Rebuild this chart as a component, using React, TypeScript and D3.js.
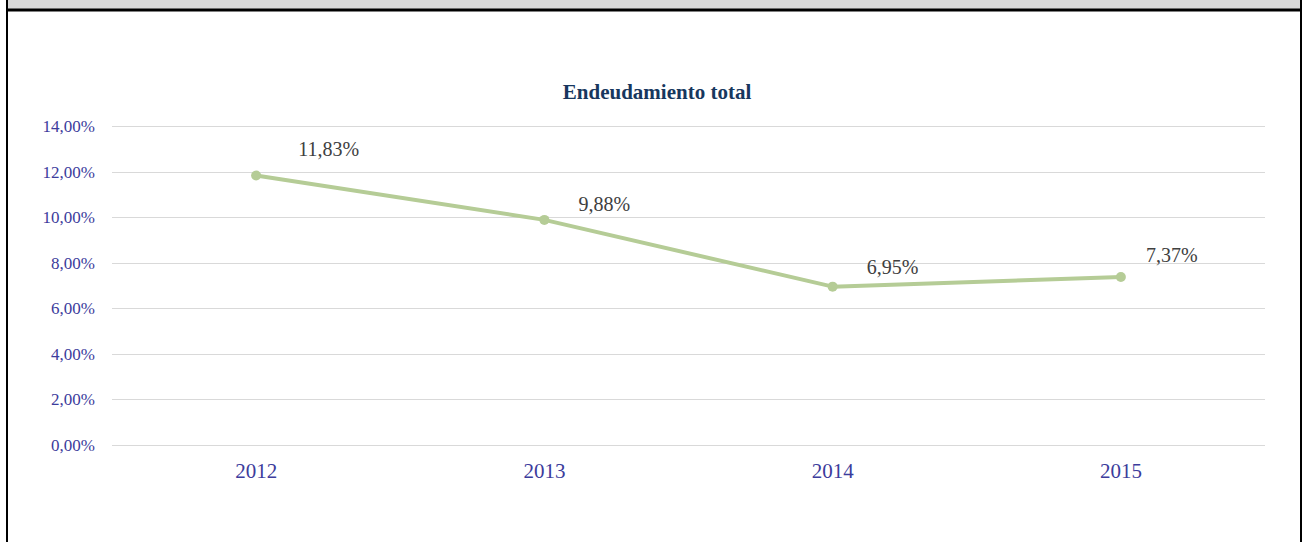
import React, { useEffect, useRef } from 'react';
import * as d3 from 'd3';

const years = ['2012', '2013', '2014', '2015'];
const endeudamiento = [11.83, 9.88, 6.95, 7.37];
const yTicks = [0, 2, 4, 6, 8, 10, 12, 14];
// the data labels were dragged by hand in the original, so each has its own nudge
const labelNudgeX = [42, 34, 34, 25];
const labelNudgeY = [-19, -9, -13, -15];

const fmt = (v: number) => v.toFixed(2).replace('.', ',') + '%';

const App = () => {
  const svgRef = useRef<SVGSVGElement | null>(null);

  useEffect(() => {
    const W = 1305;
    const H = 542;
    const margin = { top: 126, right: 40, bottom: 97, left: 112 };

    const svg = d3.select(svgRef.current)
      .attr('width', W)
      .attr('height', H)
      .style('position', 'absolute')
      .style('left', 0)
      .style('top', 0)
      .style('background', '#fff');

    svg.selectAll('*').remove();

    // frame: grey strip on top, black borders
    svg.append('rect')
      .attr('x', 7).attr('y', 0)
      .attr('width', 1294).attr('height', 10)
      .attr('fill', '#d9d9d9');
    svg.append('line')
      .attr('x1', 7).attr('x2', 1302)
      .attr('y1', 10).attr('y2', 10)
      .attr('stroke', '#000').attr('stroke-width', 3);
    svg.append('line')
      .attr('x1', 7).attr('x2', 7)
      .attr('y1', 0).attr('y2', H)
      .attr('stroke', '#000').attr('stroke-width', 2);
    svg.append('line')
      .attr('x1', 1301).attr('x2', 1301)
      .attr('y1', 0).attr('y2', H)
      .attr('stroke', '#000').attr('stroke-width', 2);

    const x = d3.scaleBand()
      .domain(years)
      .range([margin.left, 1265]);

    const y = d3.scaleLinear()
      .domain([0, 14])
      .range([445, margin.top]);

    const font = '"Liberation Serif", "Times New Roman", serif';

    svg.append('text')
      .attr('x', 657)
      .attr('y', 99)
      .attr('text-anchor', 'middle')
      .attr('font-family', font)
      .attr('font-size', 21)
      .attr('font-weight', 'bold')
      .attr('fill', '#17375e')
      .text('Endeudamiento total');

    // gridlines
    svg.append('g')
      .selectAll('line')
      .data(yTicks)
      .enter().append('line')
      .attr('x1', margin.left)
      .attr('x2', 1265)
      .attr('y1', d => Math.round(y(d)) + 0.5)
      .attr('y2', d => Math.round(y(d)) + 0.5)
      .attr('stroke', '#d9d9d9')
      .attr('stroke-width', 1);

    // y labels
    svg.append('g')
      .selectAll('text')
      .data(yTicks)
      .enter().append('text')
      .attr('x', 95)
      .attr('y', d => y(d) + 6)
      .attr('text-anchor', 'end')
      .attr('font-family', font)
      .attr('font-size', 17)
      .attr('fill', '#3c3c9c')
      .text(d => fmt(d));

    // x labels
    svg.append('g')
      .selectAll('text')
      .data(years)
      .enter().append('text')
      .attr('x', d => (x(d) as number) + x.bandwidth() / 2)
      .attr('y', 478)
      .attr('text-anchor', 'middle')
      .attr('font-family', font)
      .attr('font-size', 21)
      .attr('fill', '#3c3c9c')
      .text(d => d);

    const cx = (i: number) => (x(years[i]) as number) + x.bandwidth() / 2;

    const line = d3.line<number>()
      .x((d, i) => cx(i))
      .y(d => y(d));

    svg.append('path')
      .datum(endeudamiento)
      .attr('fill', 'none')
      .attr('stroke', '#b5cc96')
      .attr('stroke-width', 4)
      .attr('stroke-linejoin', 'round')
      .attr('d', line);

    svg.selectAll('.dot')
      .data(endeudamiento)
      .enter().append('circle')
      .attr('class', 'dot')
      .attr('cx', (d, i) => cx(i))
      .attr('cy', d => y(d))
      .attr('r', 5)
      .attr('fill', '#b5cc96');

    svg.selectAll('.lbl')
      .data(endeudamiento)
      .enter().append('text')
      .attr('class', 'lbl')
      .attr('x', (d, i) => cx(i) + labelNudgeX[i])
      .attr('y', (d, i) => y(d) + labelNudgeY[i])
      .attr('font-family', font)
      .attr('font-size', 20)
      .attr('fill', '#404040')
      .text(d => fmt(d));
  }, []);

  return <svg ref={svgRef}></svg>;
};

export default App;
